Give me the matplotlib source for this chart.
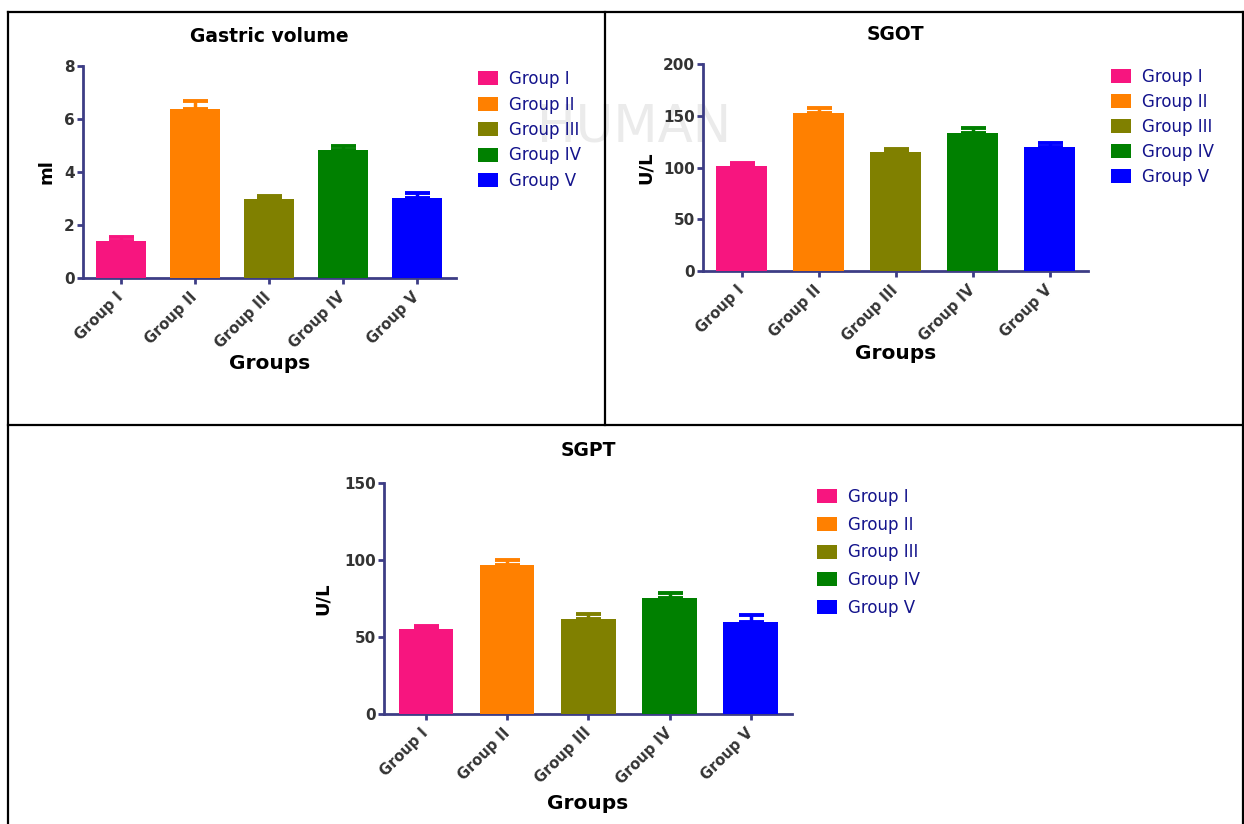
import matplotlib
matplotlib.use('Agg')
import matplotlib.pyplot as plt
from matplotlib.lines import Line2D
import numpy as np

plt.rcParams['font.family'] = ['DejaVu Sans']

groups = ['Group I', 'Group II', 'Group III', 'Group IV', 'Group V']
colors = ['#f7157f', '#ff8000', '#808000', '#008000', '#0000ff']

gastric_mean = [1.38, 6.38, 2.97, 4.84, 3.03]
gastric_err = [0.15, 0.30, 0.12, 0.14, 0.17]

sgot_mean = [101.6, 152.2, 115.4, 133.2, 120.0]
sgot_err = [3.2, 5.5, 2.9, 4.5, 3.5]

sgpt_mean = [55.2, 96.5, 61.5, 74.9, 59.9]
sgpt_err = [1.8, 3.5, 3.4, 3.5, 4.3]

W, H = 1244, 824
AXIS_COL = '#3d3d85'
TICK_COL = '#333333'
LEG_COL = '#14148c'


def px(x0, y0, x1, y1):
    # pixel box (top-left origin) -> figure fraction rect
    return [x0 / W, 1 - y1 / H, (x1 - x0) / W, (y1 - y0) / H]


def bar_panel(fig, rect, means, errs, ylim, yticks, ylabel, xlim,
              title, title_xy, ylab_x, xlab_y, leg_xy, leg_space):
    ax = fig.add_axes(rect)
    ax.set_facecolor('none')
    x = np.arange(len(groups))
    bars = ax.bar(x, means, width=0.67, color=colors, zorder=3)
    for xi, m, e, c in zip(x, means, errs, colors):
        ax.errorbar(xi, m, yerr=[[0], [e]], color=c, elinewidth=2.5,
                    capsize=9, capthick=2.8, zorder=2)
    ax.set_xlim(*xlim)
    ax.set_ylim(*ylim)
    ax.set_yticks(yticks)
    ax.set_xticks(x)
    ax.set_xticklabels(groups, rotation=45, ha='right', va='center',
                       rotation_mode='anchor', fontsize=10.5,
                       fontweight='bold', color=TICK_COL)
    for lab in ax.get_yticklabels():
        lab.set_fontsize(11)
        lab.set_fontweight('bold')
        lab.set_color(TICK_COL)
    for s in ['top', 'right']:
        ax.spines[s].set_visible(False)
    for s in ['left', 'bottom']:
        ax.spines[s].set_color(AXIS_COL)
        ax.spines[s].set_linewidth(2)
    ax.tick_params(axis='both', colors=AXIS_COL, width=2, length=4,
                   labelcolor=TICK_COL)
    ax.tick_params(axis='y', pad=2)
    ax.tick_params(axis='x', pad=8)
    ax.set_ylabel(ylabel, fontsize=13, fontweight='bold')
    ax.yaxis.set_label_coords(ylab_x, 0.5)
    ax.set_xlabel('Groups', fontsize=14.5, fontweight='bold')
    ax.xaxis.set_label_coords(0.5, xlab_y)
    fig.text(title_xy[0] / W, 1 - title_xy[1] / H, title, fontsize=13.5,
             fontweight='bold', ha='center', va='center')
    leg = ax.legend(bars, groups, loc='upper left',
                    bbox_to_anchor=(leg_xy[0] / W, 1 - leg_xy[1] / H),
                    bbox_transform=fig.transFigure, frameon=False,
                    fontsize=12, borderpad=0, borderaxespad=0,
                    handlelength=1.2, handleheight=0.9,
                    handletextpad=0.65, labelspacing=leg_space)
    for t in leg.get_texts():
        t.set_color(LEG_COL)
    return ax


fig = plt.figure(figsize=(W / 100, H / 100), dpi=100)

# faint watermark behind the charts
fig.text(634 / W, 1 - 127 / H, 'HUMAN', fontsize=37, color='#ebebeb',
         ha='center', va='center', zorder=-5)

bar_panel(fig, px(83, 66, 456, 278), gastric_mean, gastric_err,
          (0, 8), [0, 2, 4, 6, 8], 'ml', (-0.51, 4.53),
          'Gastric volume', (269, 36), -0.075, -0.36, (478, 70), 0.45)

bar_panel(fig, px(703, 64, 1088, 271), sgot_mean, sgot_err,
          (0, 200), [0, 50, 100, 150, 200], 'U/L', (-0.50, 4.50),
          'SGOT', (895, 35), -0.125, -0.355, (1111, 68), 0.42)

bar_panel(fig, px(384, 483, 792, 713.6), sgpt_mean, sgpt_err,
          (0, 150), [0, 50, 100, 150], 'U/L', (-0.52, 4.51),
          'SGPT', (588, 451), -0.127, -0.35, (817, 488), 0.58)

# panel borders
def fig_line(x0, y0, x1, y1):
    fig.add_artist(Line2D([x0 / W, x1 / W], [1 - y0 / H, 1 - y1 / H],
                          color='black', linewidth=1.6,
                          transform=fig.transFigure))


fig_line(8, 12, 1243, 12)
fig_line(8, 12, 8, 830)
fig_line(1243, 12, 1243, 830)
fig_line(8, 425, 1243, 425)
fig_line(605, 12, 605, 425)

fig.savefig('out.png', dpi=100)
